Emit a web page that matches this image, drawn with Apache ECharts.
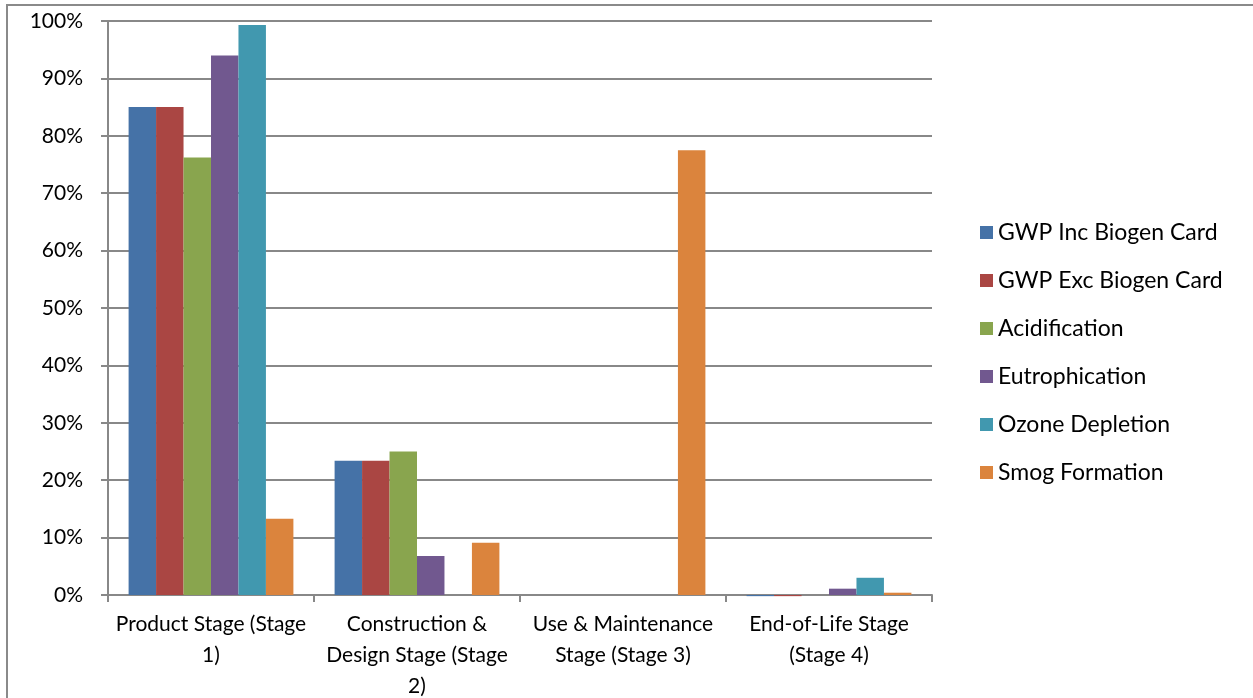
<!DOCTYPE html>
<html><head><meta charset="utf-8">
<script src="https://cdn.jsdelivr.net/npm/echarts@6/dist/echarts.min.js"></script>
<style>html,body{margin:0;padding:0;background:#fff}#c{width:1253px;height:698px}</style>
</head><body><div id="c"></div>
<script>
const categories = ["Product Stage (Stage\n1)", "Construction &\nDesign Stage (Stage\n2)", "Use & Maintenance\nStage (Stage 3)", "End-of-Life Stage\n(Stage 4)"];
const seriesNames = ["GWP Inc Biogen Card", "GWP Exc Biogen Card", "Acidification", "Eutrophication", "Ozone Depletion", "Smog Formation"];
const gwpInc = [85.0, 23.4, 0, -0.2];
const gwpExc = [85.0, 23.4, 0, -0.2];
const acidification = [76.2, 25.0, 0, 0];
const eutrophication = [94.0, 6.8, 0, 1.1];
const ozoneDepletion = [99.3, 0, 0, 3.0];
const smogFormation = [13.3, 9.1, 77.5, 0.4];
const yTicks = [0, 10, 20, 30, 40, 50, 60, 70, 80, 90, 100];
const colors = ["#4572A7", "#AA4643", "#89A54E", "#71588F", "#4198AF", "#DB843D"];
const allValues = [gwpInc, gwpExc, acidification, eutrophication, ozoneDepletion, smogFormation];
const FONT = "Lato";
const chart = echarts.init(document.getElementById('c'));
chart.setOption({
  animation: false,
  color: colors,
  textStyle: {fontFamily: FONT},
  graphic: [{type: 'rect', shape: {x: 7, y: 5, width: 1300, height: 800}, style: {fill: 'none', stroke: '#8a8a8a', lineWidth: 2}, silent: true, z: -10}],
  grid: {left: 108, right: 321, top: 21, bottom: 103, containLabel: false, outerBoundsMode: 'none'},
  legend: {
    orient: 'vertical', left: 975, top: 214, itemWidth: 13, itemHeight: 13, itemGap: 21,
    icon: 'rect', textStyle: {fontSize: 23, color: '#000', fontFamily: FONT, lineHeight: 27, padding: [0, 0, 0, 0]},
    data: seriesNames
  },
  xAxis: {
    type: 'category', data: categories,
    axisLine: {lineStyle: {color: '#888', width: 2}},
    axisTick: {show: true, length: 7, lineStyle: {color: '#888', width: 2}},
    axisLabel: {fontSize: 21, color: '#000', lineHeight: 31, margin: 14, fontFamily: FONT, interval: 0}
  },
  yAxis: {
    type: 'value', min: 0, max: 100, interval: 10,
    axisLine: {show: true, lineStyle: {color: '#888', width: 2}},
    axisTick: {show: true, length: 7, lineStyle: {color: '#888', width: 2}},
    splitLine: {lineStyle: {color: '#888', width: 2}},
    axisLabel: {fontSize: 21, color: '#000', margin: 25, fontFamily: FONT, formatter: v => yTicks.includes(v) ? v + '%' : ''}
  },
  series: seriesNames.map((n, i) => ({
    name: n, type: 'bar', data: allValues[i], barGap: '0%', barCategoryGap: '20%', clip: false
  }))
});
</script></body></html>
